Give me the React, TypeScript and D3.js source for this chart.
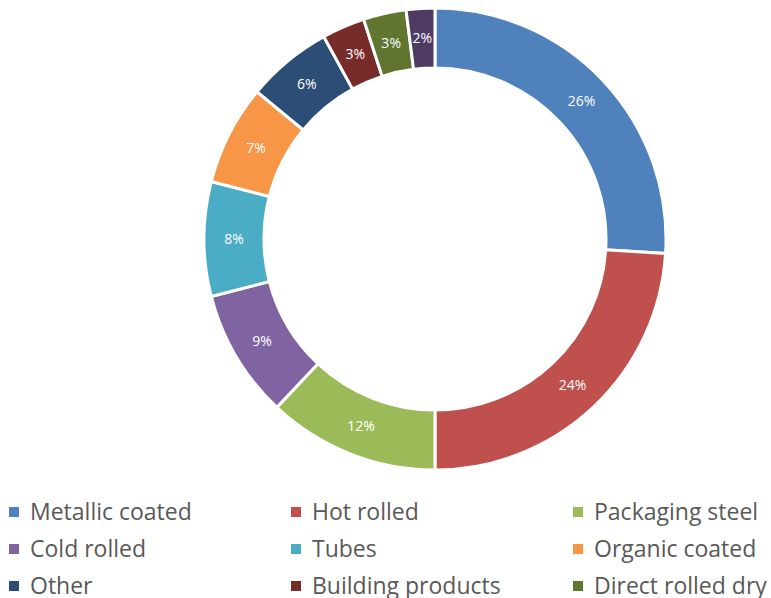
import { useEffect, useRef } from "react";
import * as d3 from "d3";

const W = 771;
const H = 598;
const CX = 435;
const CY = 239;
const OUTER = 231;
const INNER = 171;

const categories = [
  "Metallic coated",
  "Hot rolled",
  "Packaging steel",
  "Cold rolled",
  "Tubes",
  "Organic coated",
  "Other",
  "Building products",
  "Direct rolled dry",
  "Electrical steel",
];
const shares = [26, 24, 12, 9, 8, 7, 6, 3, 3, 2];
const colors = [
  "#4F81BD",
  "#C0504D",
  "#9BBB59",
  "#8064A2",
  "#4BACC6",
  "#F79646",
  "#2C4D75",
  "#772C2A",
  "#5F7530",
  "#4D3B62",
];

type Row = { name: string; value: number; color: string };

export default function App() {
  const svgRef = useRef<SVGSVGElement>(null);

  useEffect(() => {
    const el = svgRef.current;
    if (!el) return;
    const data: Row[] = categories.map((name, i) => ({ name, value: shares[i], color: colors[i] }));

    const svg = d3.select(el);
    svg.selectAll("*").remove();

    const pie = d3.pie<Row>().value((d) => d.value).sort(null);
    const arc = d3.arc<d3.PieArcDatum<Row>>().innerRadius(INNER).outerRadius(OUTER);
    const arcs = pie(data);

    const g = svg.append("g").attr("transform", `translate(${CX},${CY})`);

    g.selectAll("path")
      .data(arcs)
      .join("path")
      .attr("d", arc)
      .attr("fill", (d) => d.data.color)
      .attr("stroke", "#fff")
      .attr("stroke-width", 3);

    g.selectAll("text")
      .data(arcs)
      .join("text")
      .attr("transform", (d) => `translate(${arc.centroid(d)})`)
      .attr("text-anchor", "middle")
      .attr("dy", "0.35em")
      .attr("fill", "#fff")
      .attr("font-size", 14)
      .attr("font-family", "'Open Sans', sans-serif")
      .text((d) => `${d.data.value}%`);

    // legend, 3 columns (4th row falls below the page, as in the original)
    const colX = d3.scaleOrdinal<number, number>().domain([0, 1, 2]).range([8, 290, 572]);
    const rowY = (i: number) => 512 + Math.floor(i / 3) * 37;

    const legend = svg
      .append("g")
      .selectAll("g")
      .data(data)
      .join("g")
      .attr("transform", (_, i) => `translate(${colX(i % 3)},${rowY(i)})`);

    legend
      .append("rect")
      .attr("x", 1)
      .attr("y", -5)
      .attr("width", 10)
      .attr("height", 10)
      .attr("fill", (d) => d.color);

    legend
      .append("text")
      .attr("x", 22)
      .attr("dy", "0.35em")
      .attr("fill", "#595959")
      .attr("font-size", 23)
      .attr("font-family", "'Open Sans', sans-serif")
      .text((d) => d.name);
  }, []);

  return (
    <svg
      ref={svgRef}
      width={W}
      height={H}
      style={{ position: "absolute", left: 0, top: 0, background: "#fff" }}
    />
  );
}
